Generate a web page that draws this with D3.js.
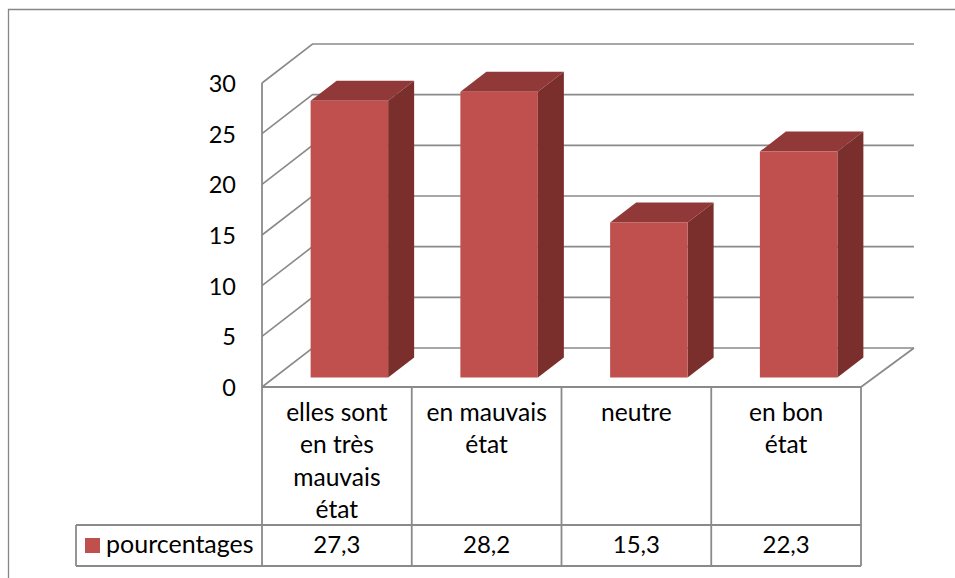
<!DOCTYPE html>
<html><head><meta charset="utf-8">
<script src="https://cdn.jsdelivr.net/npm/d3@7/dist/d3.min.js"></script>
<style>html,body{margin:0;padding:0;background:#fff}svg{display:block}text{font-family:Lato,"Open Sans",sans-serif;fill:#000}</style>
</head><body><svg id="c" width="955" height="578"></svg>
<script>
const categories = [["elles sont","en très","mauvais","état"],["en mauvais","état"],["neutre"],["en bon","état"]];
const seriesName = "pourcentages";
const values = [27.3, 28.2, 15.3, 22.3];
const valueLabels = ["27,3","28,2","15,3","22,3"];
const yTicks = [0,5,10,15,20,25,30];

const grey = "#8a8a8a", front = "#c0504d", topC = "#913938", side = "#7b2f2d";
const svg = d3.select("#c");
const x = d3.scaleBand().domain(d3.range(values.length)).range([262,861]);
const y = d3.scaleLinear().domain([0,30]).range([387,83]);
const wall = {dx:50.5, dy:-39, right:914}, barBase = {dx:12.5, dy:-9.5}, depth = {dx:26, dy:-20};
const barW = 77.5;
const line = d3.line();
const rowTop = 525, rowBottom = 566, tableLeft = 76;

// frame
svg.append("path").attr("d",line([[8.5,578],[8.5,9.5],[955,9.5]])).attr("fill","none").attr("stroke","#868686").attr("stroke-width",1.3);

// walls
const g = svg.append("g").attr("fill","none").attr("stroke",grey);
yTicks.forEach(t=>{
  const p = y(t);
  g.append("path").attr("stroke-width",1.6)
   .attr("d",line([[x.range()[0],p],[x.range()[0]+wall.dx,p+wall.dy],[wall.right,p+wall.dy]]));
});
g.append("path").attr("stroke-width",1.8).attr("d",line([[262,y(0)],[262,y(30)]]));
g.append("path").attr("stroke-width",1.8).attr("d",line([[x.range()[1],y(0)],[wall.right,y(0)+wall.dy]]));

// bars
values.forEach((v,i)=>{
  const x0 = x(i)+(x.bandwidth()-barW)/2+barBase.dx, x1 = x0+barW;
  const b = y(0)+barBase.dy, t = y(v)+barBase.dy;
  const d = depth;
  svg.append("polygon").attr("fill",topC).attr("points",[[x0,t],[x0+d.dx,t+d.dy],[x1+d.dx,t+d.dy],[x1,t]].join(" "));
  svg.append("polygon").attr("fill",side).attr("points",[[x1,t],[x1+d.dx,t+d.dy],[x1+d.dx,b+d.dy],[x1,b]].join(" "));
  svg.append("rect").attr("x",x0).attr("y",t).attr("width",barW).attr("height",b-t).attr("fill",front);
});

// y tick labels
svg.append("g").selectAll("text").data(yTicks).join("text")
  .attr("x",236).attr("y",d=>y(d)+9).attr("text-anchor","end").attr("font-size",23.5).text(d=>d);

// data table
const tb = svg.append("g").attr("fill","none").attr("stroke",grey).attr("stroke-width",1.8);
tb.append("path").attr("d",line([[262,y(0)],[x.range()[1],y(0)]]));
x.domain().forEach(i=>{ tb.append("path").attr("d",line([[x(i),y(0)],[x(i),rowBottom]])); });
tb.append("path").attr("d",line([[x.range()[1],y(0)],[x.range()[1],rowBottom]]));
tb.append("path").attr("d",line([[tableLeft,rowTop],[x.range()[1],rowTop]]));
tb.append("path").attr("d",line([[tableLeft,rowBottom],[x.range()[1],rowBottom]]));
tb.append("path").attr("d",line([[tableLeft,rowTop],[tableLeft,rowBottom]]));

categories.forEach((lines,i)=>{
  lines.forEach((s,j)=>{
    svg.append("text").attr("x",x(i)+x.bandwidth()/2).attr("y",420.5+j*32.5)
      .attr("text-anchor","middle").attr("font-size",24.6).text(s);
  });
  svg.append("text").attr("x",x(i)+x.bandwidth()/2).attr("y",553)
    .attr("text-anchor","middle").attr("font-size",24).text(valueLabels[i]);
});
svg.append("rect").attr("x",85).attr("y",538).attr("width",15).attr("height",15).attr("fill",front);
svg.append("text").attr("x",106).attr("y",553).attr("font-size",25).text(seriesName);
</script></body></html>
